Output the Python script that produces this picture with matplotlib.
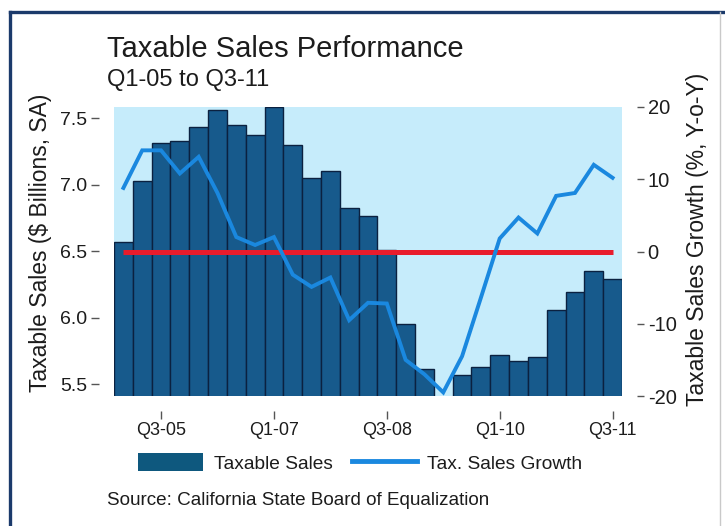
import matplotlib
matplotlib.use("Agg")
import matplotlib.pyplot as plt
from matplotlib.lines import Line2D
from matplotlib.patches import Patch
import numpy as np

plt.rcParams["font.family"] = ["Liberation Sans", "DejaVu Sans"]
plt.rcParams["axes.unicode_minus"] = False

# Quarterly taxable sales ($ billions, SA) and year-over-year growth (%)
quarters = [
    "Q1-05", "Q2-05", "Q3-05", "Q4-05",
    "Q1-06", "Q2-06", "Q3-06", "Q4-06",
    "Q1-07", "Q2-07", "Q3-07", "Q4-07",
    "Q1-08", "Q2-08", "Q3-08", "Q4-08",
    "Q1-09", "Q2-09", "Q3-09", "Q4-09",
    "Q1-10", "Q2-10", "Q3-10", "Q4-10",
    "Q1-11", "Q2-11", "Q3-11",
]
sales = [6.57, 7.03, 7.31, 7.33, 7.43, 7.56, 7.45, 7.37, 7.58, 7.30,
         7.05, 7.10, 6.82, 6.76, 6.51, 5.95, 5.61, 5.38, 5.57, 5.63,
         5.72, 5.67, 5.70, 6.06, 6.19, 6.35, 6.29]
growth = [8.8, 14.0, 14.0, 10.8, 13.1, 8.1, 2.0, 0.9, 2.0, -3.2,
          -4.9, -3.6, -9.5, -7.1, -7.2, -15.0, -17.0, -19.5, -14.5, -6.4,
          1.8, 4.7, 2.5, 7.7, 8.1, 12.0, 10.2]
tick_labels = ["Q3-05", "Q1-07", "Q3-08", "Q1-10", "Q3-11"]
left_ticks = [5.5, 6.0, 6.5, 7.0, 7.5]
right_ticks = [-20, -10, 0, 10, 20]

BAR = "#175a8c"
BAR_EDGE = "#0b2140"
LINE = "#1a88df"
ZERO = "#e81c2c"
BG = "#c6ecfb"
TXT = "#1c1c1c"

W, H = 725, 526
fig = plt.figure(figsize=(W / 100, H / 100), dpi=100)
fig.patch.set_facecolor("white")

ax = fig.add_axes([114 / W, 1 - 396 / H, 508 / W, 289 / H])
ax.set_facecolor(BG)
x = np.arange(len(quarters))
ax.bar(x, sales, width=1.0, color=BAR, edgecolor=BAR_EDGE, linewidth=1.0)
ax.set_xlim(-0.5, len(quarters) - 0.5)
ax.set_ylim(5.41, 7.583)

ax2 = ax.twinx()
ax2.set_ylim(-20, 20)
ax2.hlines(0, x[0], x[-1], color=ZERO, linewidth=3.6, zorder=3)
ax2.plot(x, growth, color=LINE, linewidth=2.8, solid_joinstyle="miter", zorder=4)

for a in (ax, ax2):
    for s in a.spines.values():
        s.set_visible(False)
for side in ("left", "bottom"):
    ax.spines[side].set_position(("outward", 11))
ax2.spines["right"].set_position(("outward", 11))

ax.set_yticks(left_ticks)
ax.set_yticklabels([f"{v:.1f}" for v in left_ticks])
ax.set_xticks([quarters.index(q) for q in tick_labels])
ax.set_xticklabels(tick_labels)
ax2.set_yticks(right_ticks)
ax2.set_yticklabels([str(v) for v in right_ticks])

ax.tick_params(axis="y", length=6, width=1, color="#555555", pad=2,
               labelsize=14, labelcolor=TXT)
ax.tick_params(axis="x", length=6, width=1, color="#555555", pad=2,
               labelsize=13, labelcolor=TXT)
ax2.tick_params(axis="y", length=5, width=1, color="#555555", pad=2.5,
                labelsize=14.5, labelcolor=TXT)

ax.set_ylabel("Taxable Sales ($ Billions, SA)", fontsize=16.5, color=TXT)
ax.yaxis.set_label_coords(-0.122, 0.53)
ax2.set_ylabel("Taxable Sales Growth (%, Y-o-Y)", fontsize=16.5, color=TXT)
ax2.yaxis.set_label_coords(1.126, 0.543)

fig.text(107 / W, 1 - 57 / H, "Taxable Sales Performance", fontsize=21,
         color=TXT, ha="left", va="baseline")
fig.text(107 / W, 1 - 86 / H, "Q1-05 to Q3-11", fontsize=17,
         color=TXT, ha="left", va="baseline")
fig.text(107 / W, 1 - 505 / H, "Source: California State Board of Equalization",
         fontsize=13.6, color=TXT, ha="left", va="baseline")

handles = [Patch(facecolor="#0e587e", edgecolor="none", label="Taxable Sales"),
           Line2D([], [], color=LINE, linewidth=3.5, label="Tax. Sales Growth")]
fig.legend(handles=handles, loc="center left", bbox_to_anchor=(138 / W, 1 - 463 / H),
           ncol=2, frameon=False, fontsize=13.8, handlelength=3.4,
           handleheight=1.0, handletextpad=0.55, columnspacing=1.0,
           borderpad=0, borderaxespad=0, labelcolor=TXT)

# frame around the panel
fig.add_artist(Line2D([10 / W, 1], [1 - 12 / H, 1 - 12 / H], color="#1b3a6b",
                      linewidth=2.4, transform=fig.transFigure))
fig.add_artist(Line2D([10 / W, 10 / W], [0, 1 - 12 / H], color="#1b3a6b",
                      linewidth=2.4, transform=fig.transFigure))
fig.add_artist(Line2D([720 / W, 720 / W], [0, 1 - 12 / H], color="#c9c9c9",
                      linewidth=1.0, transform=fig.transFigure))

fig.savefig("out.png", dpi=100)
